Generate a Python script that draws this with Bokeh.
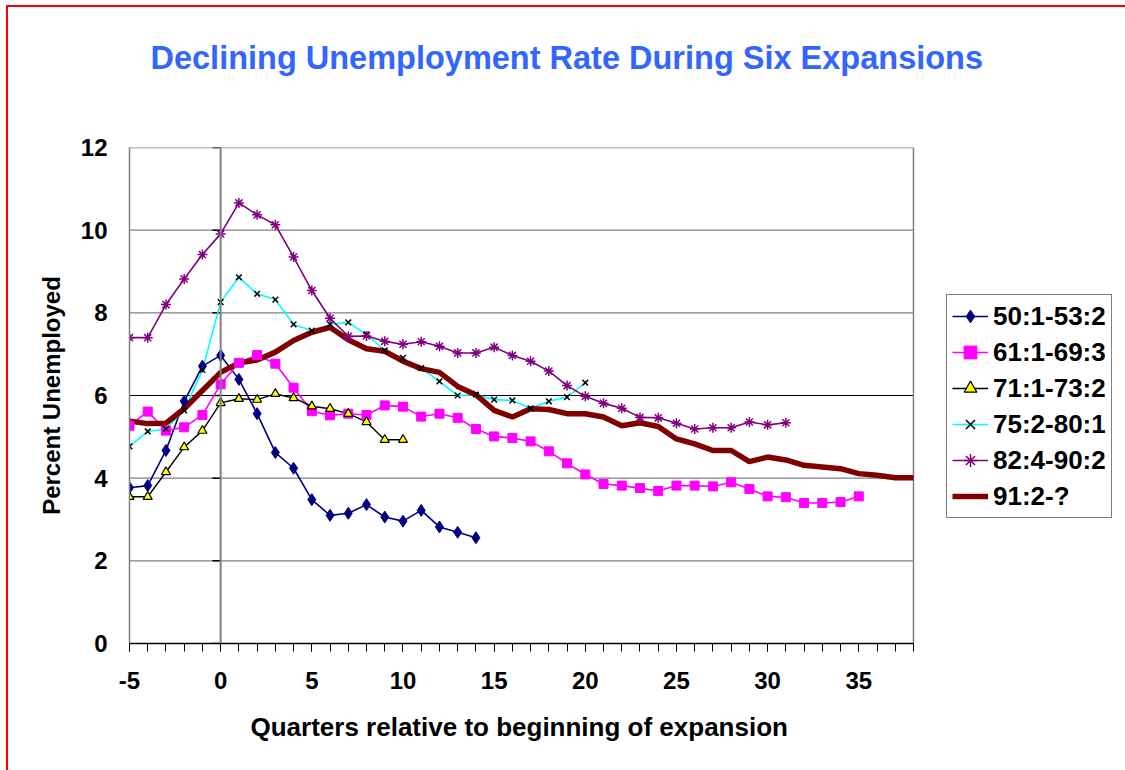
from bokeh.embed import file_html
from bokeh.models import Legend, LegendItem, Range1d, SingleIntervalTicker, Span, Title
from bokeh.plotting import figure
from bokeh.resources import INLINE

FONT = "Liberation Sans"

# Unemployment rate (%) by quarter, counted from the start of each expansion
first_quarter = -5

s50_53 = [3.77, 3.82, 4.67, 5.86, 6.71, 6.97, 6.39, 5.56, 4.62, 4.24,
          3.48, 3.10, 3.15, 3.36, 3.06, 2.96, 3.22, 2.82, 2.69, 2.56]

s61_69 = [5.27, 5.61, 5.15, 5.23, 5.53, 6.27, 6.79, 6.98, 6.77, 6.19,
          5.62, 5.52, 5.56, 5.53, 5.76, 5.73, 5.49, 5.56, 5.46, 5.19,
          5.01, 4.97, 4.89, 4.65, 4.36, 4.09, 3.86, 3.82, 3.76, 3.69,
          3.82, 3.82, 3.80, 3.90, 3.74, 3.56, 3.54, 3.40, 3.40, 3.42,
          3.56]

s71_73 = [3.55, 3.55, 4.15, 4.75, 5.15, 5.82, 5.92, 5.90, 6.04, 5.94,
          5.74, 5.68, 5.56, 5.36, 4.93, 4.93]

s75_80 = [4.77, 5.13, 5.19, 5.64, 6.62, 8.26, 8.86, 8.46, 8.32, 7.72,
          7.57, 7.72, 7.77, 7.48, 7.09, 6.91, 6.66, 6.34, 6.00, 6.02,
          5.90, 5.88, 5.69, 5.86, 5.96, 6.31]

s82_90 = [7.40, 7.40, 8.20, 8.82, 9.41, 9.91, 10.66, 10.37, 10.13, 9.35,
          8.54, 7.87, 7.43, 7.44, 7.31, 7.24, 7.30, 7.19, 7.03, 7.03,
          7.17, 6.97, 6.83, 6.59, 6.24, 5.98, 5.81, 5.69, 5.47, 5.46,
          5.33, 5.19, 5.22, 5.22, 5.36, 5.29, 5.34]

s91 = [5.38, 5.32, 5.33, 5.68, 6.12, 6.56, 6.79, 6.86, 7.05, 7.33,
       7.53, 7.65, 7.35, 7.13, 7.07, 6.83, 6.65, 6.56, 6.22, 6.02,
       5.64, 5.48, 5.68, 5.66, 5.56, 5.56, 5.48, 5.27, 5.34, 5.25,
       4.95, 4.83, 4.67, 4.67, 4.40, 4.51, 4.44, 4.31, 4.27, 4.23,
       4.11, 4.07, 4.01, 4.01]

labels = ["50:1-53:2", "61:1-69:3", "71:1-73:2", "75:2-80:1", "82:4-90:2", "91:2-?"]
y_ticks = [0, 2, 4, 6, 8, 10, 12]
x_min, x_max = -5, 38
y_min, y_max = 0, 12
legend_room = 11.63   # extra quarters of canvas to the right of the plot area, for the legend


def quarters(vals):
    return list(range(first_quarter, first_quarter + len(vals)))


p = figure(width=1125, height=770, output_backend="svg", toolbar_location=None,
           x_range=Range1d(x_min, x_max + legend_room), y_range=Range1d(y_min, y_max),
           min_border_left=129, min_border_right=0,
           min_border_top=147, min_border_bottom=127,
           background_fill_color="white", border_fill_color=None,
           outline_line_color=None)

# thin red page border along the top and left edges
p.styles = {"box-shadow": "inset 6px 5px 0 0 white, inset 8px 7px 0 0 red",
            "background-color": "white"}

# title, lifted away from the plot area by an empty spacer line
p.title.text = "Declining Unemployment Rate During Six Expansions"
p.title.text_font = FONT
p.title.text_font_style = "bold"
p.title.text_font_size = "32.5px"
p.title.text_color = "#3366FF"
p.title.align = "left"
p.title.offset = 21
p.title.standoff = 4
p.add_layout(Title(text=" ", text_font_size="12px", standoff=54), "above")

# plot-area box and horizontal grid, limited to the quarter range
p.xgrid.visible = False
p.ygrid.visible = False
grid_y = [v for v in y_ticks if v not in (y_min, 6)]
p.segment(x0=[x_min] * len(grid_y), y0=grid_y, x1=[x_max] * len(grid_y), y1=grid_y,
          line_color="#808080", line_width=1.3)
p.segment(x0=[x_min], y0=[6], x1=[x_max], y1=[6], line_color="black", line_width=1.1)
p.segment(x0=[x_max], y0=[y_min], x1=[x_max], y1=[y_max], line_color="#808080", line_width=1.5)
p.add_layout(Span(location=0, dimension="height", line_color="#808080", line_width=2))

# x axis
xa = p.xaxis[0]
xa.bounds = (x_min, x_max)
xa.ticker = SingleIntervalTicker(interval=5, num_minor_ticks=5)
xa.major_label_overrides = {-5: "-5"}
xa.axis_line_color = "black"
xa.axis_line_width = 1.5
xa.major_tick_out = 8
xa.major_tick_in = 0
xa.minor_tick_out = 8
xa.minor_tick_in = 0
xa.major_tick_line_color = "black"
xa.minor_tick_line_color = "black"
xa.major_label_text_font = FONT
xa.major_label_text_font_style = "bold"
xa.major_label_text_font_size = "24px"
xa.major_label_text_color = "black"
xa.major_label_standoff = 20

# x axis title, centred under the quarter range
p.add_layout(Title(text="Quarters relative to beginning of expansion", align="left",
                   offset=121, standoff=36, text_font=FONT, text_font_style="bold",
                   text_font_size="26px", text_color="black"), "below")

# y axis
ya = p.yaxis[0]
ya.ticker = SingleIntervalTicker(interval=2, num_minor_ticks=0)
ya.axis_line_color = "#808080"
ya.axis_line_width = 1.5
ya.major_tick_out = 0
ya.major_tick_in = 0
ya.minor_tick_out = 0
ya.minor_tick_in = 0
ya.major_label_text_font = FONT
ya.major_label_text_font_style = "bold"
ya.major_label_text_font_size = "24px"
ya.major_label_text_color = "black"
ya.major_label_standoff = 22
ya.axis_label = "Percent Unemployed"
ya.axis_label_text_font = FONT
ya.axis_label_text_font_style = "bold"
ya.axis_label_text_font_size = "24px"
ya.axis_label_text_color = "black"
ya.axis_label_standoff = 13

# small ticks on the vertical axis line at quarter 0
p.segment(x0=[0] * len(y_ticks), y0=y_ticks, x1=[-0.45] * len(y_ticks), y1=y_ticks,
          line_color="black", line_width=1.5)

# lines first, markers on top
r_l50 = p.line(quarters(s50_53), s50_53, line_color="#000080", line_width=1.6)
r_l61 = p.line(quarters(s61_69), s61_69, line_color="#FF00FF", line_width=1.6)
r_l71 = p.line(quarters(s71_73), s71_73, line_color="black", line_width=1.4)
r_l75 = p.line(quarters(s75_80), s75_80, line_color="#00FFFF", line_width=1.6)
r_l82 = p.line(quarters(s82_90), s82_90, line_color="#800080", line_width=1.6)
r_l91 = p.line(quarters(s91), s91, line_color="#800000", line_width=5.5)

r_m50 = p.scatter(quarters(s50_53), s50_53, marker="diamond", size=12,
                  fill_color="#000080", line_color="#000080")
r_m61 = p.scatter(quarters(s61_69), s61_69, marker="square", size=9,
                  fill_color="#FF00FF", line_color="#FF00FF")
r_m71 = p.scatter(quarters(s71_73), s71_73, marker="triangle", size=9,
                  fill_color="#FFFF00", line_color="black", line_width=1.2)
r_m75 = p.scatter(quarters(s75_80), s75_80, marker="x", size=8,
                  line_color="black", line_width=1.5)
r_m82 = p.scatter(quarters(s82_90), s82_90, marker="asterisk", size=10,
                  line_color="#800080", line_width=1.5)

legend = Legend(items=[
    LegendItem(label=labels[0], renderers=[r_l50, r_m50]),
    LegendItem(label=labels[1], renderers=[r_l61, r_m61]),
    LegendItem(label=labels[2], renderers=[r_l71, r_m71]),
    LegendItem(label=labels[3], renderers=[r_l75, r_m75]),
    LegendItem(label=labels[4], renderers=[r_l82, r_m82]),
    LegendItem(label=labels[5], renderers=[r_l91]),
], location=(817, 125))
legend.label_text_font = FONT
legend.label_text_font_style = "bold"
legend.label_text_font_size = "26px"
legend.label_text_color = "black"
legend.glyph_width = 36
legend.glyph_height = 32
legend.label_height = 32
legend.label_standoff = 5
legend.spacing = 4
legend.padding = 5
legend.margin = 0
legend.border_line_color = "black"
legend.border_line_width = 1.2
legend.background_fill_color = "white"
p.add_layout(legend, "center")

open("out.html", "w").write(file_html(p, INLINE))
